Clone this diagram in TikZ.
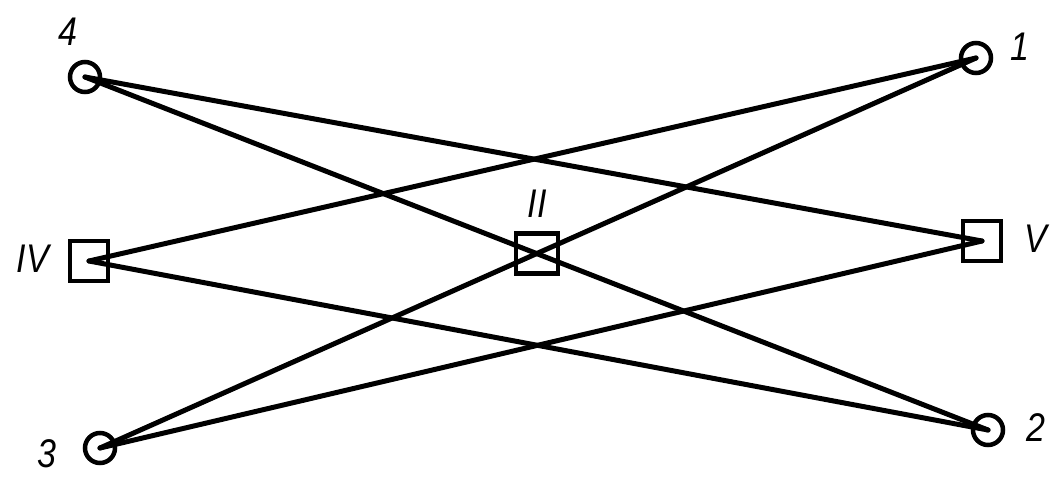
\documentclass[tikz,border=0pt]{standalone}
\usepackage{fontspec}
\setmainfont{Liberation Sans}
\begin{document}
\begin{tikzpicture}[x=1pt,y=-1pt,
  pt/.style={circle,draw,line width=4.5pt,minimum size=30pt,inner sep=0pt},
  sq/.style={rectangle,draw,line width=4.5pt,minimum width=38pt,minimum height=40pt,inner sep=0pt},
  lab/.style={font=\fontsize{40}{40}\selectfont\itshape,inner sep=0pt,xscale=0.85},
  conn/.style={line width=5pt,line cap=round}]
\useasboundingbox (0,0) rectangle (1050,477);
\coordinate (c4) at (85,77);
\coordinate (c1) at (976,58);
\coordinate (cIV) at (89,261);
\coordinate (cV) at (982,241);
\coordinate (c3) at (100,448);
\coordinate (c2) at (988,430);
\coordinate (cII) at (intersection of c4--c2 and c3--c1);
\draw[conn] (c4) -- (cV);
\draw[conn] (c4) -- (c2);
\draw[conn] (cIV) -- (c1);
\draw[conn] (cIV) -- (c2);
\draw[conn] (c3) -- (c1);
\draw[conn] (c3) -- (cV);
\node[pt] (n4) at (c4) {};
\node[pt] (n1) at (c1) {};
\node[pt] (n3) at (c3) {};
\node[pt] (n2) at (c2) {};
\node[sq] (nIV) at (cIV) {};
\node[sq] (nV) at (cV) {};
\node[sq,minimum width=42pt] (nII) at (cII) {};
\node[lab] (l4) at (68,32) {4};
\node[lab] (l1) at (1020,47) {1};
\node[lab] (lIV) at (33,259) {IV};
\node[lab] (lII) at (537,204) {II};
\node[lab] (lV) at (1036,239) {V};
\node[lab] (l3) at (47,454) {3};
\node[lab] (l2) at (1036,428) {2};
\end{tikzpicture}
\end{document}
